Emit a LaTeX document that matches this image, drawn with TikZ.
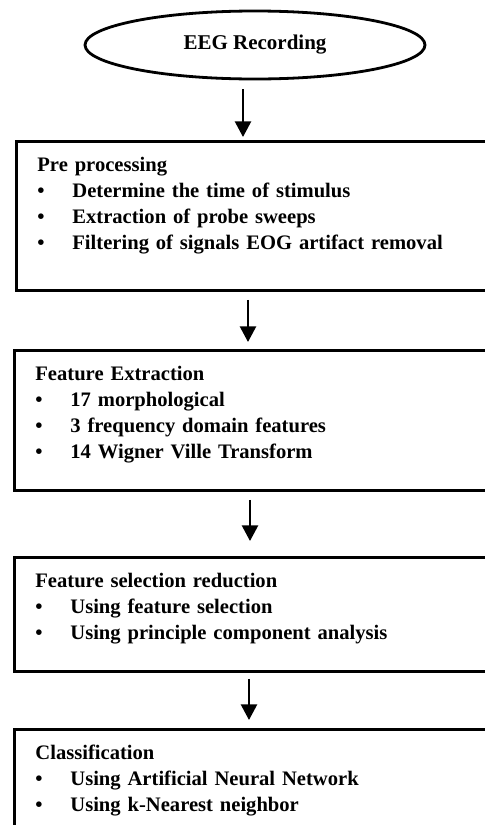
\documentclass[tikz,border=0pt]{standalone}
\usepackage{fontspec}
\setmainfont{Liberation Serif}
\usetikzlibrary{positioning, shapes.geometric, arrows.meta}

\newcommand{\stageitem}[1]{\par\makebox[17.5pt][l]{\textbullet}#1}

\begin{document}
\begin{tikzpicture}[
  x=0.5pt, y=-0.5pt,
  stagebox/.style={
    draw,
    line width=1.4pt,
    rectangle,
    anchor=north west,
    minimum width=300pt,
    inner sep=0pt
    },
  stagetext/.style={
    anchor=north west,
    inner sep=0pt,
    text width=225pt,
    align=left,
    font=\bfseries\fontsize{10.3}{13}\selectfont
    },
  flow/.style={line width=1.2pt, -{Triangle[length=7.8pt,width=8pt]}}
]

\useasboundingbox (0,0) rectangle (485,825);
\clip (0,0) rectangle (485,825);

\node[draw, ellipse, line width=1.4pt, minimum width=170pt, minimum height=34pt,
  inner sep=0pt, font=\bfseries\fontsize{10.5}{13}\selectfont] (rec) at (255,45)
  {EEG Recording};

\node[stagebox, minimum height=74.5pt] (pre) at (15,140) {};
\node[stagetext, below right=8.5pt and 11pt of pre.north west] (pretext)
  {
  Pre processing
  \stageitem{Determine the time of stimulus}
  \stageitem{Extraction of probe sweeps}
  \stageitem{Filtering of signals EOG artifact removal}
  };

\node[stagebox, minimum height=70pt] (feat) at (13,349) {};
\node[stagetext, below right=8.5pt and 11pt of feat.north west] (feattext)
  {
  Feature Extraction
  \stageitem{17 morphological}
  \stageitem{3 frequency domain features}
  \stageitem{14 Wigner Ville Transform}
  };

\node[stagebox, minimum height=57pt] (sel) at (13,556) {};
\node[stagetext, below right=8.5pt and 11pt of sel.north west] (seltext)
  {
  Feature selection reduction
  \stageitem{Using feature selection}
  \stageitem{Using principle component analysis}
  };

\node[stagebox, minimum height=65pt] (cls) at (13,728) {};
\node[stagetext, below right=8.5pt and 11pt of cls.north west] (clstext)
  {
  Classification
  \stageitem{Using Artificial Neural Network}
  \stageitem{Using k-Nearest neighbor}
  };

% Draw arrows
\draw[flow, shorten <=4.5pt, shorten >=1.5pt] (243,0 |- rec.south) -- (243,0 |- pre.north);
\draw[flow, shorten <=4pt, shorten >=3.5pt] (248,0 |- pre.south) -- (248,0 |- feat.north);
\draw[flow, shorten <=4pt, shorten >=7.5pt] (250,0 |- feat.south) -- (250,0 |- sel.north);
\draw[flow, shorten <=3pt, shorten >=4pt] (249,0 |- sel.south) -- (249,0 |- cls.north);

\end{tikzpicture}
\end{document}
